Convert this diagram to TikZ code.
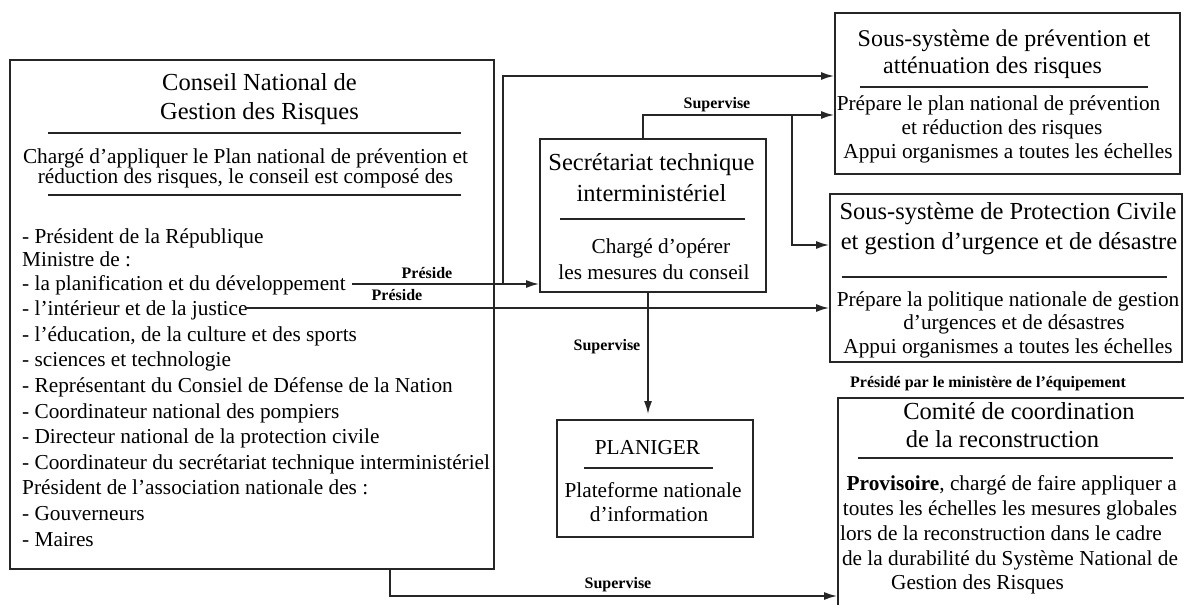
\documentclass[tikz,border=0pt]{standalone}
\usepackage{fontspec}
\setmainfont{Liberation Serif}
\usetikzlibrary{arrows.meta}
\begin{document}
\begin{tikzpicture}[x=1pt,y=-1pt,
  box/.style={draw=black!85,line width=1.8pt,inner sep=0pt},
  ttl/.style={font=\fontsize{24.5}{29}\selectfont,anchor=mid,inner sep=0pt,yshift=-4pt},
  txt/.style={font=\fontsize{21.3}{25}\selectfont,anchor=mid,inner sep=0pt,yshift=-4pt},
  lst/.style={font=\fontsize{21.3}{25}\selectfont,anchor=mid west,inner sep=0pt,yshift=-4pt},
  lbl/.style={font=\bfseries\fontsize{16}{19}\selectfont,anchor=mid,inner sep=0pt,yshift=-3pt},
  sep/.style={draw=black!85,line width=1.8pt},
  conn/.style={draw=black!85,line width=1.8pt},
  arr/.style={conn,-{Latex[length=13pt,width=8pt]}}
]
\useasboundingbox (0,0) rectangle (1184,605);
\clip (0,0) rectangle (1184,605);
\fill[white] (0,0) rectangle (1184,605);

% boxes
\node[box,minimum width=484pt,minimum height=509pt] (cons) at (252,314.5) {};
\node[box,minimum width=226pt,minimum height=153pt] (secr) at (653,215.5) {};
\node[box,minimum width=345pt,minimum height=161pt] (prev) at (1007.5,93.5) {};
\node[box,minimum width=352pt,minimum height=168pt] (prot) at (1006,278) {};
\node[box,minimum width=196pt,minimum height=117pt] (plan) at (655,478.5) {};
\node[box,minimum width=362pt,minimum height=227pt] (comi) at (1019,511.5) {};

% Conseil
\node[ttl] (c1) at (259.5,84) {Conseil National de};
\node[ttl] (c2) at (259.5,113) {Gestion des Risques};
\draw[sep] (48,133) -- (461,133);
\node[txt] (c3) at (245.5,157) {Chargé d'appliquer le Plan national de prévention et};
\node[txt] (c4) at (245.5,177) {réduction des risques, le conseil est composé des};
\draw[sep] (48,195) -- (461,195);
\node[lst] (l1) at (22,237) {- Président de la République};
\node[lst] (l2) at (22,260) {Ministre de :};
\node[lst] (l3) at (22,284) {- la planification et du développement};
\node[lst] (l4) at (22,309) {- l'intérieur et de la justice};
\node[lst] (l5) at (22,335) {- l'éducation, de la culture et des sports};
\node[lst] (l6) at (22,360) {- sciences et technologie};
\node[lst] (l7) at (22,386) {- Représentant du Consiel de Défense de la Nation};
\node[lst] (l8) at (22,412) {- Coordinateur national des pompiers};
\node[lst] (l9) at (22,437) {- Directeur national de la protection civile};
\node[lst] (l10) at (22,463) {- Coordinateur du secrétariat technique interministériel};
\node[lst] (l11) at (22,488) {Président de l'association nationale des :};
\node[lst] (l12) at (22,514) {- Gouverneurs};
\node[lst] (l13) at (22,540) {- Maires};

% Secretariat
\node[ttl] (s1) at (651.5,164) {Secrétariat technique};
\node[ttl] (s2) at (651.5,195) {interministériel};
\draw[sep] (560,219) -- (745,219);
\node[txt] (s3) at (661,247) {Chargé d'opérer};
\node[txt] (s4) at (654,273) {les mesures du conseil};

% Prevention
\node[ttl,font=\fontsize{24}{29}\selectfont] (p1) at (1004,40) {Sous-système de prévention et};
\node[ttl,font=\fontsize{24}{29}\selectfont] (p2) at (992.5,67) {atténuation des risques};
\draw[sep] (860,87) -- (1148,87);
\node[txt] (p3) at (998.5,104) {Prépare le plan national de prévention};
\node[txt] (p4) at (1002,128) {et réduction des risques};
\node[txt] (p5) at (1008,152) {Appui organismes a toutes les échelles};

% Protection civile
\node[ttl] (r1) at (1008,213) {Sous-système de Protection Civile};
\node[ttl] (r2) at (1009,243) {et gestion d'urgence et de désastre};
\draw[sep] (842,277) -- (1167,277);
\node[txt] (r3) at (1008,300) {Prépare la politique nationale de gestion};
\node[txt] (r4) at (1014,323) {d'urgences et de désastres};
\node[txt] (r5) at (1008,347) {Appui organismes a toutes les échelles};

% Comite
\node[lbl] (k0) at (988,382) {Présidé par le ministère de l'équipement};
\node[ttl] (k1) at (1019,413) {Comité de coordination};
\node[ttl] (k2) at (1002.5,441) {de la reconstruction};
\draw[sep] (858,458) -- (1173,458);
\node[txt] (k3) at (1011.7,484) {\textbf{Provisoire}, chargé de faire appliquer a};
\node[txt] (k4) at (1010,509) {toutes les échelles les mesures globales};
\node[txt] (k5) at (1001,534) {lors de la reconstruction dans le cadre};
\node[txt] (k6) at (1010,559) {de la durabilité du Système National de};
\node[txt] (k7) at (977.5,583) {Gestion des Risques};

% Planiger
\node[txt] (g1) at (647.5,448) {PLANIGER};
\draw[sep] (584,468) -- (713,468);
\node[txt] (g2) at (653,491) {Plateforme nationale};
\node[txt] (g3) at (649,515) {d'information};

% connectors
\coordinate (a1) at (352,284);
\draw[arr] (a1) -- (a1 -| secr.west);
\coordinate (b1) at (503,284);
\draw[arr] (b1) |- ([yshift=17.5pt]prev.west);
\draw[arr] ([xshift=-10pt]secr.north) |- ([yshift=-21.5pt]prev.west);
\coordinate (b2) at (792,115);
\draw[arr] (b2) |- ([yshift=33pt]prot.west);
\coordinate (a2) at (245,308);
\draw[arr] (a2) -- (a2 -| prot.west);
\draw[arr] ([xshift=-5pt]secr.south) -- ([xshift=-7pt,yshift=5pt]plan.north);
\draw[arr] ([xshift=138pt]cons.south) |- ([yshift=-84.5pt]comi.west);

% labels
\node[lbl] (e1) at (717,103) {Supervise};
\node[lbl] (e2) at (427,273) {Préside};
\node[lbl] (e3) at (397,295) {Préside};
\node[lbl] (e4) at (607,345) {Supervise};
\node[lbl] (e5) at (618,583) {Supervise};
\end{tikzpicture}
\end{document}
